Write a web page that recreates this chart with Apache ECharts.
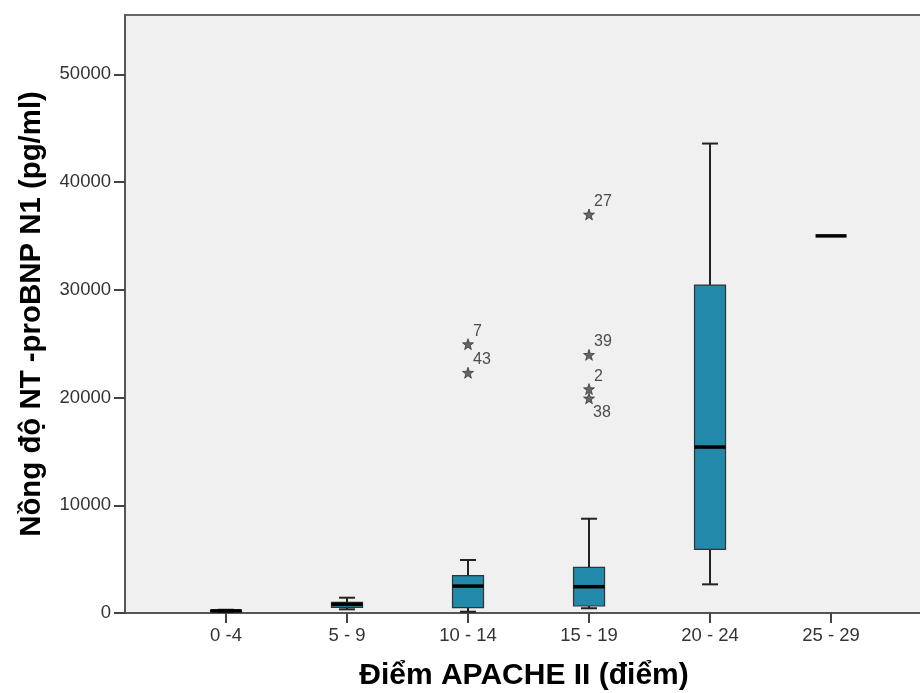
<!DOCTYPE html>
<html>
<head>
<meta charset="utf-8">
<script src="https://cdn.jsdelivr.net/npm/echarts@6/dist/echarts.min.js"></script>
<style>
  html, body { margin: 0; padding: 0; background: #fff; }
  #chart { width: 920px; height: 693px; }
</style>
</head>
<body>
<div id="chart"></div>
<script>
// APACHE II score groups
const categories = ['0 -4', '5 - 9', '10 - 14', '15 - 19', '20 - 24', '25 - 29'];

// box statistics (pg/ml)
const whiskerLow = [100, 340, 120, 440, 2660, 35000];
const quartile1 = [150, 530, 490, 650, 5910, 35000];
const medians = [200, 810, 2500, 2440, 15400, 35000];
const quartile3 = [250, 990, 3460, 4240, 30430, 35000];
const whiskerHigh = [300, 1420, 4920, 8750, 43570, 35000];

// extreme values (case numbers)
const outlierGroup = [2, 2, 3, 3, 3, 3];
const outlierValue = [24950, 22300, 36990, 23960, 20780, 19920];
const outlierCase = ['7', '43', '27', '39', '2', '38'];

const yTicks = [0, 10000, 20000, 30000, 40000, 50000];

const chart = echarts.init(document.getElementById('chart'));

const boxData = categories.map((c, i) => [i, whiskerLow[i], quartile1[i], medians[i], quartile3[i], whiskerHigh[i]]);

const outlierData = outlierGroup.map((g, i) => ({
  value: [g, outlierValue[i], outlierCase[i]],
  label: { position: outlierCase[i] === '38' ? [10, 20] : [11, -7] }
}));

const starPath = 'path://M0,-5 L1.176,-1.618 L4.755,-1.545 L1.902,0.618 L2.939,4.045 L0,2 L-2.939,4.045 L-1.902,0.618 L-4.755,-1.545 L-1.176,-1.618 Z';

function renderBox(params, api) {
  const x = api.value(0);
  const pLow = api.coord([x, api.value(1)]);
  const pQ1 = api.coord([x, api.value(2)]);
  const pMed = api.coord([x, api.value(3)]);
  const pQ3 = api.coord([x, api.value(4)]);
  const pHigh = api.coord([x, api.value(5)]);
  const cx = pMed[0];
  const boxW = 31;
  const capW = 16;
  const children = [];
  if (api.value(1) !== api.value(5)) {
    const wStyle = { stroke: '#222', lineWidth: 2 };
    children.push(
      { type: 'line', shape: { x1: cx, y1: pHigh[1], x2: cx, y2: pQ3[1] }, style: wStyle },
      { type: 'line', shape: { x1: cx, y1: pQ1[1], x2: cx, y2: pLow[1] }, style: wStyle },
      { type: 'line', shape: { x1: cx - capW / 2, y1: pHigh[1], x2: cx + capW / 2, y2: pHigh[1] }, style: wStyle },
      { type: 'line', shape: { x1: cx - capW / 2, y1: pLow[1], x2: cx + capW / 2, y2: pLow[1] }, style: wStyle },
      {
        type: 'rect',
        shape: { x: cx - boxW / 2, y: pQ3[1], width: boxW, height: pQ1[1] - pQ3[1] },
        style: { fill: '#2389AA', stroke: '#333', lineWidth: 1.2 }
      }
    );
  }
  children.push({
    type: 'line',
    shape: { x1: cx - boxW / 2, y1: pMed[1], x2: cx + boxW / 2, y2: pMed[1] },
    style: { stroke: '#000', lineWidth: 3.5 }
  });
  return { type: 'group', children: children };
}

const titleStyle = { fontWeight: 'bold', color: '#000', fontFamily: 'Liberation Sans' };

const option = {
  animation: false,
  backgroundColor: '#fff',
  textStyle: { fontFamily: 'Liberation Sans' },
  grid: {
    left: 125,
    right: -3,
    top: 15,
    bottom: 80,
    show: true,
    backgroundColor: '#F0F0F0',
    borderColor: '#666',
    borderWidth: 2,
    outerBoundsMode: 'none'
  },
  xAxis: {
    type: 'value',
    min: -0.8347,
    max: 5.760,
    name: 'Điểm APACHE II (điểm)',
    nameLocation: 'middle',
    nameGap: 48,
    nameTextStyle: Object.assign({ fontSize: 30 }, titleStyle),
    axisLine: { show: true, onZero: false, lineStyle: { color: '#555', width: 2 } },
    axisTick: { show: true, length: 10, customValues: [0, 1, 2, 3, 4, 5], lineStyle: { color: '#444', width: 2 } },
    axisLabel: {
      customValues: [0, 1, 2, 3, 4, 5],
      formatter: v => categories[Math.round(v)],
      fontSize: 18.5,
      color: '#333',
      margin: 13
    },
    splitLine: { show: false }
  },
  yAxis: {
    type: 'value',
    min: 0,
    max: 55500,
    interval: 10000,
    name: 'Nồng độ NT -proBNP N1 (pg/ml)',
    nameLocation: 'middle',
    nameGap: 79,
    nameTextStyle: Object.assign({ fontSize: 29.4 }, titleStyle),
    axisLine: { show: true, onZero: false, lineStyle: { color: '#555', width: 2 } },
    axisTick: { show: true, length: 11, customValues: yTicks, lineStyle: { color: '#444', width: 2 } },
    axisLabel: { customValues: yTicks, formatter: v => String(v), fontSize: 18.5, color: '#333', margin: 14 },
    splitLine: { show: false }
  },
  series: [
    {
      type: 'custom',
      renderItem: renderBox,
      encode: { x: 0, y: [1, 2, 3, 4, 5] },
      data: boxData,
      z: 2
    },
    {
      type: 'scatter',
      symbol: starPath,
      symbolSize: [11, 11],
      itemStyle: { color: '#444', borderColor: '#222', borderWidth: 0.8 },
      label: {
        show: true,
        formatter: p => p.data.value[2],
        fontSize: 16,
        color: '#222',
        align: 'left',
        verticalAlign: 'middle'
      },
      data: outlierData,
      z: 3
    }
  ]
};

chart.setOption(option);
</script>
</body>
</html>
